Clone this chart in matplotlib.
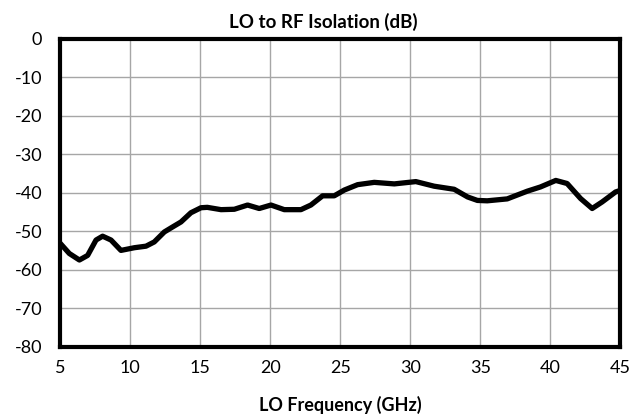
import numpy as np
import matplotlib
matplotlib.use('Agg')
import matplotlib.pyplot as plt

plt.rcParams['font.family'] = ['Lato', 'DejaVu Sans']
plt.rcParams['axes.unicode_minus'] = False

# LO frequency (GHz) and isolation (dB)
freq = [5.0, 5.64, 6.36, 6.95, 7.55, 8.02, 8.62, 9.33, 10.29, 11.12, 11.71,
        12.43, 13.02, 13.62, 14.33, 15.05, 15.5, 16.48, 17.43, 18.38, 19.21,
        20.05, 21.0, 22.19, 22.9, 23.74, 24.57, 25.29, 26.24, 27.43, 28.86,
        30.4, 31.71, 33.14, 34.1, 34.8, 35.5, 36.93, 38.36, 39.3, 40.4,
        41.21, 42.17, 43.0, 43.71, 44.67, 45.0]
isolation = [-53.2, -55.8, -57.5, -56.3, -52.3, -51.3, -52.3, -55.0, -54.3,
             -53.9, -52.8, -50.2, -48.9, -47.6, -45.2, -43.9, -43.8, -44.4,
             -44.3, -43.2, -44.1, -43.2, -44.4, -44.4, -43.2, -40.8, -40.8,
             -39.3, -37.9, -37.3, -37.7, -37.1, -38.3, -39.1, -41.1, -42.0,
             -42.1, -41.6, -39.6, -38.5, -36.8, -37.6, -41.5, -44.1, -42.4,
             -39.8, -39.4]

xticks = [5, 10, 15, 20, 25, 30, 35, 40, 45]
yticks = [0, -10, -20, -30, -40, -50, -60, -70, -80]

fig = plt.figure(figsize=(6.42, 4.19), dpi=100)
ax = fig.add_axes([0.094, 0.173, 0.872, 0.734])

ax.plot(freq, isolation, color='black', linewidth=3.8, solid_capstyle='round',
        solid_joinstyle='round', zorder=3)

ax.set_xlim(5, 45)
ax.set_ylim(-80, 0)
ax.set_xticks(xticks)
ax.set_yticks(yticks)
ax.grid(True, color='#a6a6a6', linewidth=1.0)
ax.set_axisbelow(True)
ax.tick_params(length=0, labelsize=13)
ax.tick_params(axis='y', pad=13)
ax.tick_params(axis='x', pad=10)
for s in ax.spines.values():
    s.set_linewidth(3)
    s.set_color('black')

# title sits a bit left of the plot centre in the reference
ax.set_title('LO to RF Isolation (dB)', fontsize=13.5, fontweight='bold', pad=8, x=0.47)
ax.set_xlabel('LO Frequency (GHz)', fontsize=13, fontweight='bold', labelpad=14)

fig.savefig('out.png', dpi=100)
